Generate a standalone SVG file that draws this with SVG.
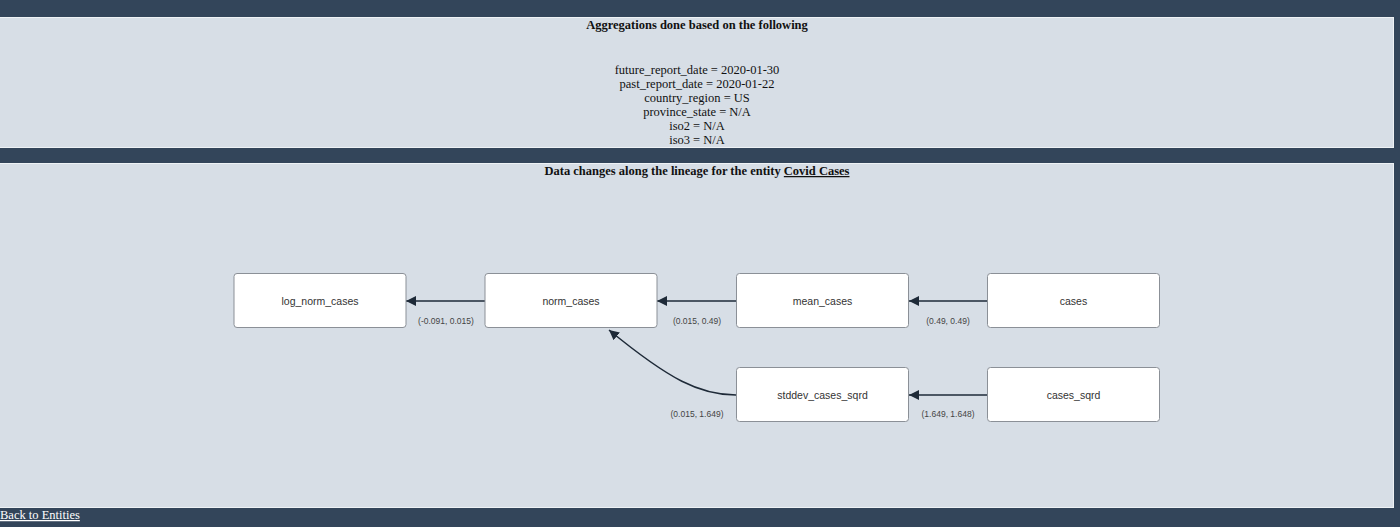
<svg xmlns="http://www.w3.org/2000/svg" width="1400" height="527" viewBox="0 0 1400 527">
<style>
.panel{fill:#d7dee6;stroke:#eef2f5;stroke-width:1}
.hdr{font-family:"Liberation Serif",serif;font-size:12.5px;fill:#111;text-anchor:middle}
.bold{font-weight:bold}
.node rect{fill:#fff;stroke:#8b9097;stroke-width:1}
.node text{font-family:"Liberation Sans",Arial,sans-serif;font-size:10.5px;fill:#333;text-anchor:middle}
.edge{fill:none;stroke:#1e2a38;stroke-width:1.5}
.lbl{font-family:"Liberation Sans",Arial,sans-serif;font-size:8.5px;fill:#444;text-anchor:middle}
</style>
<defs>
<marker id="arr" viewBox="0 0 10 10" refX="10" refY="5" markerWidth="10" markerHeight="10" markerUnits="userSpaceOnUse" orient="auto">
<path d="M0,0 L10,5 L0,10 z" fill="#1e2a38"/>
</marker>
</defs>
<rect x="0" y="0" width="1400" height="527" fill="#33455a"/>
<rect class="panel" x="-1" y="17.5" width="1394.5" height="130"/>
<rect class="panel" x="-1" y="163.5" width="1394.5" height="344"/>
<g id="header">
<text class="hdr bold" x="697" y="29">Aggregations done based on the following</text>
<text class="hdr" x="697" y="74">future_report_date = 2020-01-30</text>
<text class="hdr" x="697" y="88">past_report_date = 2020-01-22</text>
<text class="hdr" x="697" y="102">country_region = US</text>
<text class="hdr" x="697" y="116">province_state = N/A</text>
<text class="hdr" x="697" y="130">iso2 = N/A</text>
<text class="hdr" x="697" y="144">iso3 = N/A</text>
<text class="hdr bold" x="697" y="175">Data changes along the lineage for the entity <tspan text-decoration="underline">Covid Cases</tspan></text>
</g>
<g id="connectors">
<path class="edge" d="M987,301 L909,301" marker-end="url(#arr)"/>
<path class="edge" d="M736,301 L657,301" marker-end="url(#arr)"/>
<path class="edge" d="M485,301 L406,301" marker-end="url(#arr)"/>
<path class="edge" d="M987,395 L909,395" marker-end="url(#arr)"/>
<path class="edge" d="M736,395 C700,395 670,380 609,330" marker-end="url(#arr)"/>
<text class="lbl" x="446" y="324">(-0.091, 0.015)</text>
<text class="lbl" x="697" y="324">(0.015, 0.49)</text>
<text class="lbl" x="948" y="324">(0.49, 0.49)</text>
<text class="lbl" x="697" y="417">(0.015, 1.649)</text>
<text class="lbl" x="948" y="417">(1.649, 1.648)</text>
</g>
<g id="log_norm_cases" class="node"><rect x="234" y="273.5" width="172" height="54" rx="3"/><text x="320" y="305">log_norm_cases</text></g>
<g id="norm_cases" class="node"><rect x="485" y="273.5" width="172" height="54" rx="3"/><text x="571" y="305">norm_cases</text></g>
<g id="mean_cases" class="node"><rect x="736.5" y="273.5" width="172" height="54" rx="3"/><text x="822.5" y="305">mean_cases</text></g>
<g id="cases" class="node"><rect x="987.5" y="273.5" width="172" height="54" rx="3"/><text x="1073.5" y="305">cases</text></g>
<g id="stddev_cases_sqrd" class="node"><rect x="736.5" y="367.5" width="172" height="54" rx="3"/><text x="822.5" y="399">stddev_cases_sqrd</text></g>
<g id="cases_sqrd" class="node"><rect x="987.5" y="367.5" width="172" height="54" rx="3"/><text x="1073.5" y="399">cases_sqrd</text></g>
<text x="0" y="519" font-family="Liberation Serif,serif" font-size="12.5" fill="#fff" text-decoration="underline">Back to Entities</text>
</svg>
